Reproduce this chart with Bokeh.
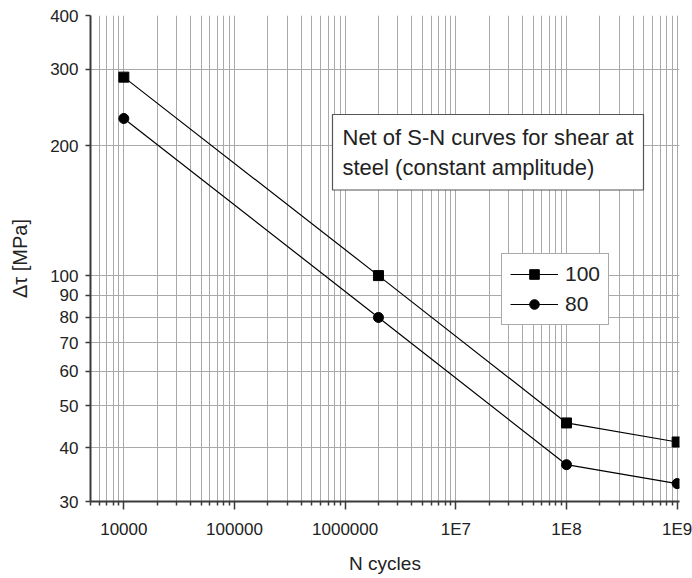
from bokeh.plotting import figure
from bokeh.models import FixedTicker, Legend, LegendItem, Label, Range1d
from bokeh.embed import file_html
from bokeh.resources import INLINE

# data
cycles = [1e4, 2e6, 1e8, 1e9]
dtau_100 = [288, 100, 45.6, 41.2]
dtau_80 = [231, 80, 36.5, 33.0]
series_labels = ["100", "80"]

x_major = [1e4, 1e5, 1e6, 1e7, 1e8, 1e9]
x_labels = ["10000", "100000", "1000000", "1E7", "1E8", "1E9"]
y_ticks = [30, 40, 50, 60, 70, 80, 90, 100, 200, 300, 400]
y_labels = ["30", "40", "50", "60", "70", "80", "90", "100", "200", "300", "400"]
y_grid = [30, 40, 50, 60, 70, 80, 90, 100, 200, 300]

FONT = "Liberation Sans"
TXT = "#222222"
AX = "#3a3a3a"
GRID = "#a9a9a9"

p = figure(width=692, height=578, x_axis_type="log", y_axis_type="log",
           x_range=Range1d(5000, 1.05e9), y_range=Range1d(30, 400),
           output_backend="svg", toolbar_location=None,
           min_border_left=90, min_border_right=13, min_border_top=15,
           min_border_bottom=77)
p.outline_line_color = None
p.background_fill_color = "white"
p.border_fill_color = "white"

minor_x = [m * 10 ** k for k in range(3, 9) for m in range(2, 10)]
xt = FixedTicker(ticks=x_major, minor_ticks=minor_x)
yt = FixedTicker(ticks=y_ticks, minor_ticks=[])

p.xaxis.ticker = xt
p.yaxis.ticker = yt
p.xaxis.major_label_overrides = {t: l for t, l in zip(x_major, x_labels)}
p.yaxis.major_label_overrides = {t: l for t, l in zip(y_ticks, y_labels)}

p.xgrid.ticker = xt
p.xgrid.grid_line_color = GRID
p.xgrid.minor_grid_line_color = GRID
p.xgrid.grid_line_width = 1
p.xgrid.minor_grid_line_width = 1
p.ygrid.ticker = FixedTicker(ticks=y_grid, minor_ticks=[])
p.ygrid.grid_line_color = GRID
p.ygrid.grid_line_width = 1

for ax in (p.xaxis, p.yaxis):
    ax.axis_line_color = AX
    ax.axis_line_width = 2
    ax.major_tick_line_color = AX
    ax.minor_tick_line_color = AX
    ax.major_tick_line_width = 1.5
    ax.minor_tick_line_width = 1.5
    ax.major_tick_in = 0
    ax.minor_tick_in = 0
    ax.major_label_text_font = FONT
    ax.major_label_text_color = TXT
    ax.major_label_text_font_size = "17px"
    ax.axis_label_text_font = FONT
    ax.axis_label_text_color = TXT
    ax.axis_label_text_font_style = "normal"
    ax.axis_label_text_font_size = "19px"

p.xaxis.major_tick_out = 8
p.xaxis.minor_tick_out = 4
p.xaxis.major_label_standoff = 10
p.xaxis.axis_label = "N cycles"
p.xaxis.axis_label_standoff = 11

p.yaxis.major_tick_out = 5
p.yaxis.minor_tick_line_color = None
p.yaxis.major_label_standoff = 7
p.yaxis.axis_label = "Δτ [MPa]"
p.yaxis.axis_label_text_font_size = "20px"
p.yaxis.axis_label_standoff = 16

l1 = p.line(cycles, dtau_100, line_color="black", line_width=1.2)
s1 = p.scatter(cycles, dtau_100, marker="square", size=10, color="black")
l2 = p.line(cycles, dtau_80, line_color="black", line_width=1.2)
s2 = p.scatter(cycles, dtau_80, marker="circle", size=10, color="black")

legend = Legend(items=[LegendItem(label=series_labels[0], renderers=[l1, s1]),
                       LegendItem(label=series_labels[1], renderers=[l2, s2])],
                location=(411, 176), margin=0, padding=8, spacing=6,
                glyph_width=48, glyph_height=24, label_height=24,
                label_standoff=7, label_text_font=FONT,
                label_text_font_size="21px", label_text_color=TXT,
                border_line_color="#555555", border_line_width=1.2,
                background_fill_color="white", background_fill_alpha=1)
p.add_layout(legend)

note = Label(x=242, y=387, x_units="screen", y_units="screen",
             text="Net of S-N curves for shear at\nsteel (constant amplitude)",
             text_align="left", text_baseline="top",
             text_font=FONT, text_font_size="22px", text_color=TXT,
             text_line_height=1.22,
             background_fill_color="white", background_fill_alpha=1,
             border_line_color="#555555", border_line_width=1.2,
             padding=10)
p.add_layout(note)

open("out.html", "w").write(file_html(p, INLINE))
